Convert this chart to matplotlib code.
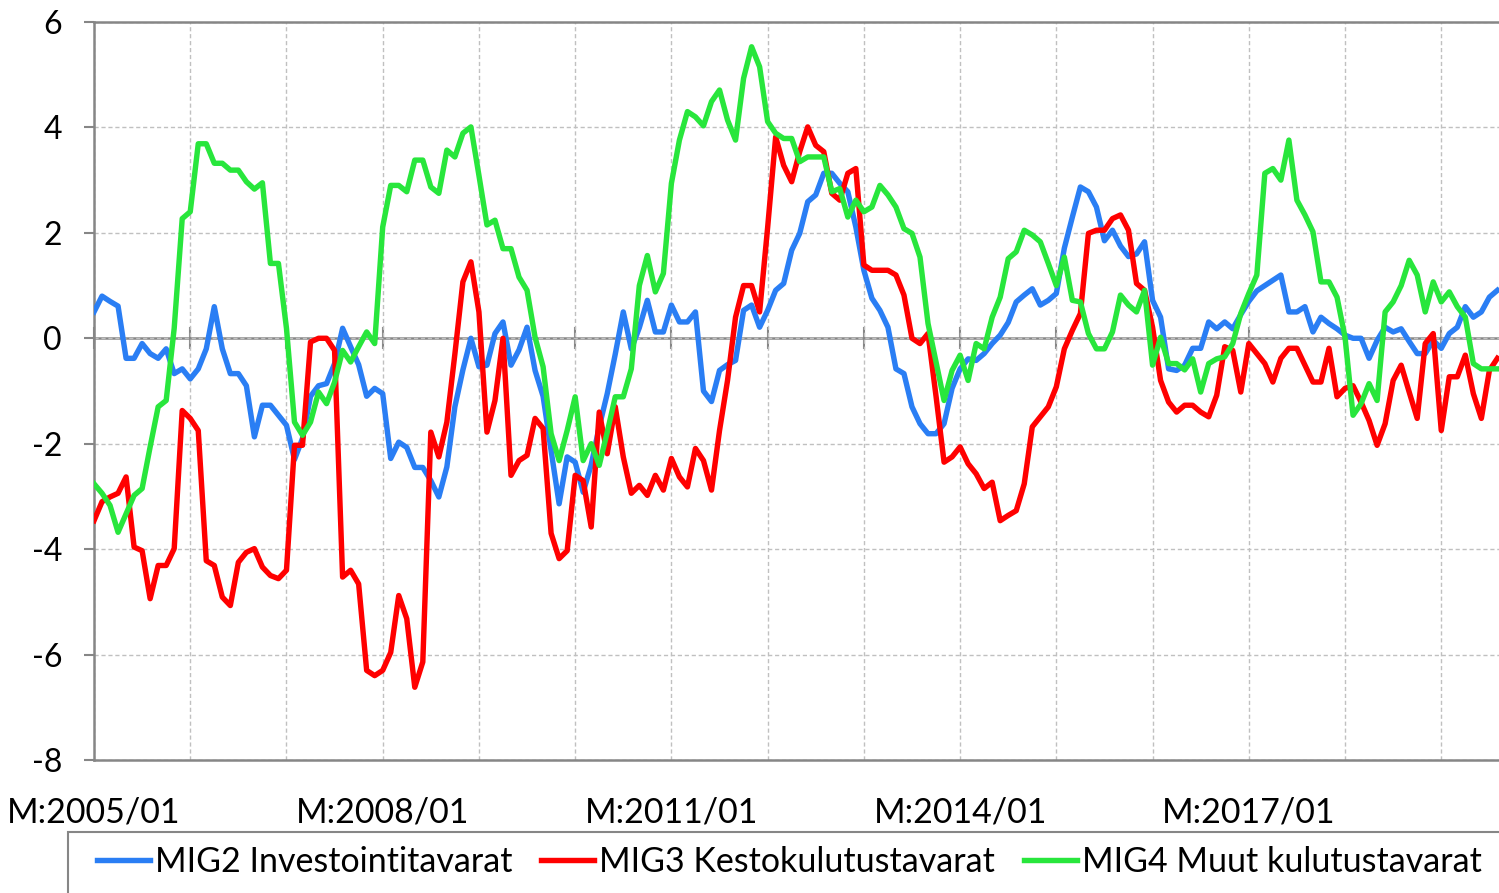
"""
MIG2 / MIG3 / MIG4 monthly series, 2005/01 - 2019/08
"""

import matplotlib.pyplot as plt
import matplotlib.patches as mpatches
import numpy as np

plt.rcParams["font.family"] = ["Lato", "DejaVu Sans"]
plt.rcParams["axes.unicode_minus"] = False

# one row per year, monthly values
mig2 = [
    0.5, 0.8, 0.7, 0.61, -0.38, -0.38, -0.1, -0.29, -0.38, -0.2, -0.67, -0.58,
    -0.77, -0.58, -0.2, 0.6, -0.2, -0.67, -0.67, -0.9, -1.87, -1.27, -1.27, -1.46,
    -1.65, -2.3, -1.9, -1.1, -0.9, -0.86, -0.48, 0.19, -0.16, -0.5, -1.1, -0.95,
    -1.05, -2.28, -1.97, -2.07, -2.45, -2.45, -2.7, -3.01, -2.44, -1.3, -0.6, 0.0,
    -0.54, -0.51, 0.09, 0.31, -0.51, -0.22, 0.21, -0.61, -1.1, -2.13, -3.14, -2.25,
    -2.35, -2.92, -2.4, -1.68, -1.05, -0.3, 0.5, -0.2, 0.2, 0.72, 0.12, 0.12,
    0.63, 0.31, 0.31, 0.5, -1.0, -1.2, -0.61, -0.5, -0.42, 0.53, 0.63, 0.21,
    0.53, 0.91, 1.04, 1.67, 1.99, 2.59, 2.72, 3.13, 3.13, 2.94, 2.78, 2.11,
    1.29, 0.76, 0.53, 0.21, -0.58, -0.67, -1.3, -1.62, -1.81, -1.81, -1.62, -0.95,
    -0.58, -0.39, -0.42, -0.29, -0.1, 0.06, 0.3, 0.69, 0.82, 0.94, 0.63, 0.72,
    0.85, 1.71, 2.3, 2.87, 2.78, 2.49, 1.85, 2.05, 1.75, 1.55, 1.6, 1.83,
    0.72, 0.4, -0.58, -0.61, -0.51, -0.19, -0.19, 0.31, 0.18, 0.31, 0.18, 0.45,
    0.7, 0.9, 1.0, 1.1, 1.2, 0.5, 0.5, 0.6, 0.12, 0.4, 0.28, 0.18,
    0.06, 0.0, 0.0, -0.38, -0.04, 0.21, 0.12, 0.18, -0.06, -0.29, -0.29, -0.04,
    -0.19, 0.09, 0.21, 0.6, 0.4, 0.5, 0.78, 0.91,
]
mig3 = [
    -3.46, -3.1, -3.01, -2.94, -2.63, -3.96, -4.03, -4.94, -4.31, -4.31, -3.99, -1.37,
    -1.52, -1.75, -4.22, -4.31, -4.91, -5.07, -4.25, -4.06, -3.99, -4.34, -4.5, -4.56,
    -4.4, -2.03, -2.03, -0.07, 0.0, 0.0, -0.23, -4.53, -4.4, -4.66, -6.3, -6.4,
    -6.3, -5.96, -4.88, -5.32, -6.62, -6.14, -1.78, -2.25, -1.59, -0.3, 1.07, 1.45,
    0.5, -1.78, -1.18, 0.0, -2.6, -2.32, -2.22, -1.52, -1.71, -3.7, -4.18, -4.03,
    -2.6, -2.7, -3.58, -1.4, -2.19, -1.3, -2.25, -2.94, -2.79, -2.98, -2.6, -2.88,
    -2.28, -2.63, -2.82, -2.09, -2.32, -2.88, -1.75, -0.8, 0.4, 1.0, 1.0, 0.5,
    2.1, 3.82, 3.28, 2.97, 3.54, 4.01, 3.66, 3.54, 2.75, 2.62, 3.13, 3.22,
    1.39, 1.29, 1.29, 1.29, 1.2, 0.82, 0.0, -0.1, 0.09, -1.1, -2.35, -2.25,
    -2.06, -2.38, -2.57, -2.85, -2.73, -3.46, -3.36, -3.27, -2.76, -1.68, -1.49, -1.3,
    -0.92, -0.2, 0.15, 0.47, 1.99, 2.05, 2.05, 2.27, 2.34, 2.05, 1.04, 0.91,
    0.21, -0.8, -1.21, -1.4, -1.27, -1.27, -1.4, -1.49, -1.08, -0.16, -0.23, -1.02,
    -0.1, -0.29, -0.48, -0.83, -0.38, -0.19, -0.19, -0.51, -0.83, -0.83, -0.19, -1.11,
    -0.95, -0.9, -1.21, -1.56, -2.03, -1.62, -0.8, -0.51, -1.02, -1.52, -0.1, 0.09,
    -1.75, -0.73, -0.73, -0.32, -1.05, -1.52, -0.61, -0.38,
]
mig4 = [
    -2.76, -2.94, -3.17, -3.68, -3.33, -2.98, -2.85, -2.06, -1.3, -1.18, 0.19, 2.27,
    2.4, 3.69, 3.69, 3.32, 3.32, 3.19, 3.19, 2.97, 2.83, 2.95, 1.42, 1.42,
    0.19, -1.59, -1.84, -1.59, -1.02, -1.24, -0.83, -0.23, -0.45, -0.16, 0.12, -0.1,
    2.11, 2.9, 2.9, 2.78, 3.38, 3.38, 2.87, 2.75, 3.57, 3.44, 3.89, 4.01,
    3.09, 2.15, 2.24, 1.7, 1.7, 1.16, 0.91, 0.02, -0.54, -1.81, -2.32, -1.75,
    -1.11, -2.32, -2.0, -2.41, -1.78, -1.11, -1.11, -0.58, 1.0, 1.57, 0.88, 1.23,
    2.94, 3.76, 4.3, 4.2, 4.03, 4.49, 4.71, 4.14, 3.76, 4.93, 5.53, 5.15,
    4.11, 3.89, 3.79, 3.79, 3.35, 3.44, 3.44, 3.44, 2.78, 2.84, 2.3, 2.62,
    2.4, 2.49, 2.9, 2.72, 2.49, 2.08, 1.99, 1.54, 0.28, -0.45, -1.18, -0.61,
    -0.32, -0.8, -0.1, -0.2, 0.4, 0.78, 1.51, 1.64, 2.05, 1.96, 1.83, 1.42,
    1.0, 1.54, 0.72, 0.69, 0.09, -0.2, -0.2, 0.12, 0.82, 0.63, 0.5, 0.91,
    -0.51, 0.02, -0.48, -0.48, -0.6, -0.39, -1.02, -0.48, -0.39, -0.35, -0.1, 0.47,
    0.85, 1.2, 3.13, 3.22, 3.0, 3.76, 2.62, 2.34, 2.02, 1.07, 1.07, 0.78,
    0.02, -1.46, -1.24, -0.86, -1.18, 0.5, 0.69, 1.0, 1.48, 1.2, 0.5, 1.07,
    0.69, 0.88, 0.6, 0.4, -0.48, -0.58, -0.58, -0.58,
]
labels = ["MIG2 Investointitavarat", "MIG3 Kestokulutustavarat", "MIG4 Muut kulutustavarat"]
xtick_labels = ["M:2005/01", "M:2008/01", "M:2011/01", "M:2014/01", "M:2017/01"]

months = np.arange(len(mig2))
grey = "#868686"

fig = plt.figure(figsize=(14.99, 8.93), dpi=100)
ax = fig.add_axes([94 / 1499, 1 - 760 / 893, 1 - 94 / 1499, 738 / 893])

ax.plot(months, mig2, color="#2a7ef4", lw=3.9, label=labels[0], zorder=3)
ax.plot(months, mig3, color="#ff0000", lw=3.9, label=labels[1], zorder=3)
ax.plot(months, mig4, color="#28e63c", lw=3.9, label=labels[2], zorder=3)

ax.set_xlim(0, 175.2)
ax.set_ylim(-8, 6)
ax.set_yticks(np.arange(-8, 7, 2))
ax.set_xticks(np.arange(0, 145, 36))
ax.set_xticklabels(xtick_labels)
ax.set_xticks(np.arange(0, 176, 12), minor=True)

ax.tick_params(axis="y", direction="out", length=7, width=1.5, color=grey,
               labelsize=23, pad=16)
ax.tick_params(axis="x", which="both", length=0, labelsize=24.5, pad=26)

ax.grid(which="both", axis="x", color="#c0c0c0", linestyle=(0, (3, 2)), linewidth=1)
ax.grid(which="major", axis="y", color="#c0c0c0", linestyle=(0, (3, 2)), linewidth=1)
ax.set_axisbelow(True)

for side in ["left", "top", "bottom"]:
    ax.spines[side].set_color(grey)
    ax.spines[side].set_linewidth(1.8)
ax.spines["right"].set_visible(False)

# axis line through zero with tick marks at every year
sec = ax.secondary_xaxis(8 / 14)
sec.set_xticks(np.arange(0, 176, 12))
sec.tick_params(direction="inout", length=16, width=1.5, color=grey,
                labeltop=False, labelbottom=False)
for side in ["top", "bottom"]:
    sec.spines[side].set_color(grey)
    sec.spines[side].set_linewidth(1.8)

# legend below the plot
fig.patches.append(mpatches.Rectangle((68 / 1499, -0.05), 1.0, 0.05 + 1 - 832 / 893,
                                      transform=fig.transFigure, fill=False,
                                      edgecolor=grey, linewidth=1.5))
fig.legend(loc="center left", bbox_to_anchor=(97 / 1499, 1 - 862 / 893), ncol=3,
           frameon=False, fontsize=24.5, handlelength=1.55, handletextpad=0.15,
           columnspacing=0.85, borderpad=0, borderaxespad=0)

fig.savefig("out.png", dpi=100)
